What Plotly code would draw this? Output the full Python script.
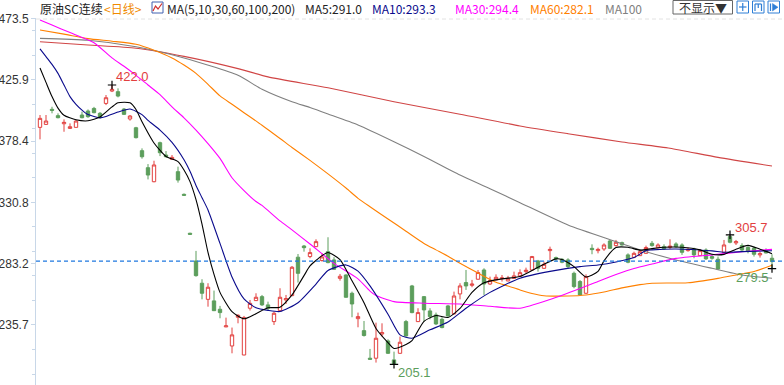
import plotly.graph_objects as go

# ---------------- data ----------------
opens = [389.1, 391.4, 403.1, 398.2, 391.9, 388.3, 389.1, 398.7, 401.8, 403.8,
         400.0, 407.7, 417.3, 416.8, 403.3, 395.6, 388.8, 371.0, 357.8, 346.9,
         377.2, 367.6, 364.3, 354.7, 337.1, 306.9, 285.4, 268.1, 255.6, 254.4,
         247.9, 234.2, 219.4, 241.7, 212.4, 248.7, 254.6, 257.7, 251.3, 238.3,
         246.8, 255.1, 258.5, 288.3, 297.0, 288.8, 296.5, 285.7, 292.6, 286.2,
         271.9, 274.5, 260.3, 240.6, 231.3, 209.9, 209.9, 228.7, 223.3, 208.6,
         213.7, 238.3, 266.0, 238.3, 257.7, 246.6, 243.5, 240.1, 250.5, 244.3,
         259.8, 268.6, 266.5, 271.2, 278.4, 267.5, 270.7, 271.7, 269.9, 271.9,
         273.8, 277.1, 278.4, 285.4, 279.7, 293.4, 288.0, 286.7, 286.2, 275.8,
         269.4, 260.3, 295.2, 293.4, 294.7, 300.9, 297.3, 299.6, 290.1, 288.2,
         289.5, 291.3, 299.1, 295.7, 296.5, 296.0, 298.6, 297.8, 293.4, 294.7,
         289.5, 293.9, 288.8, 286.7, 292.1, 304.3, 299.4, 297.3, 295.8, 295.2,
         290.1, 293.4, 287.5]
highs = [398.7, 398.7, 405.1, 400.0, 395.3, 392.2, 394.8, 401.3, 403.0, 405.0,
         401.0, 414.2, 422.0, 419.4, 404.1, 398.7, 389.5, 372.8, 360.6, 363.2,
         378.0, 370.7, 367.6, 358.6, 337.8, 307.3, 293.2, 271.2, 268.1, 262.4,
         250.5, 241.4, 233.7, 244.0, 242.7, 255.1, 260.3, 259.0, 253.8, 246.1,
         264.2, 259.0, 281.5, 290.8, 297.8, 295.2, 302.2, 291.4, 303.8, 288.3,
         275.3, 275.0, 261.6, 245.3, 238.8, 217.1, 237.5, 237.0, 224.6, 215.0,
         226.7, 239.6, 266.8, 248.7, 258.2, 248.7, 245.3, 241.7, 251.3, 261.6,
         268.1, 278.4, 270.7, 278.4, 279.7, 273.2, 275.0, 274.5, 273.8, 277.1,
         278.9, 280.2, 289.3, 286.2, 284.9, 296.5, 288.8, 287.5, 287.5, 277.1,
         270.6, 275.0, 298.3, 295.7, 299.1, 301.7, 301.7, 300.4, 291.3, 292.6,
         293.9, 297.3, 300.9, 299.1, 298.3, 302.2, 299.9, 299.1, 295.7, 295.7,
         294.7, 295.2, 290.6, 288.8, 301.7, 305.7, 301.7, 299.1, 297.3, 296.5,
         292.6, 295.2, 290.6]
lows = [379.8, 391.0, 400.0, 396.1, 385.7, 388.0, 389.1, 396.1, 396.5, 400.0,
        396.0, 406.4, 416.5, 412.4, 398.7, 394.3, 380.5, 364.8, 348.7, 346.5,
        366.8, 365.8, 364.0, 346.2, 335.8, 305.6, 273.2, 255.6, 249.9, 246.5,
        240.9, 234.0, 213.7, 237.0, 212.2, 246.9, 254.4, 250.5, 247.4, 235.7,
        246.5, 252.0, 258.0, 268.6, 292.6, 287.5, 296.2, 284.9, 283.6, 278.4,
        270.1, 257.0, 241.7, 233.9, 226.7, 208.9, 206.5, 226.7, 213.2, 205.1,
        213.5, 226.7, 244.8, 238.0, 238.3, 240.1, 235.7, 233.1, 242.2, 244.0,
        255.6, 262.9, 265.0, 271.0, 259.0, 266.8, 270.5, 269.4, 269.6, 271.5,
        273.2, 275.8, 278.0, 277.1, 279.2, 286.2, 284.9, 283.6, 279.2, 264.2,
        258.5, 260.0, 290.6, 291.3, 293.2, 294.7, 296.5, 297.3, 283.6, 287.5,
        289.3, 291.0, 296.5, 295.2, 293.9, 294.7, 295.7, 290.1, 292.6, 287.5,
        289.3, 286.2, 286.4, 278.4, 291.8, 299.1, 297.8, 293.2, 291.3, 288.8,
        288.0, 291.3, 279.5]
closes = [396.1, 394.0, 402.3, 396.6, 393.0, 389.6, 394.0, 396.6, 397.4, 400.5,
          396.9, 412.1, 418.6, 413.4, 399.2, 397.9, 381.1, 366.3, 352.1, 359.9,
          369.4, 366.3, 365.8, 348.2, 336.4, 306.1, 274.0, 260.3, 265.0, 246.8,
          245.3, 235.0, 228.0, 243.2, 241.4, 252.5, 257.2, 251.3, 248.7, 244.8,
          257.2, 256.2, 280.5, 275.8, 295.7, 291.9, 300.4, 288.5, 284.1, 278.9,
          273.5, 257.2, 252.0, 242.2, 227.5, 209.1, 225.4, 229.8, 213.7, 205.6,
          222.3, 227.2, 245.3, 245.3, 247.4, 242.2, 236.5, 233.7, 242.7, 258.2,
          266.0, 266.0, 267.5, 276.4, 267.5, 270.1, 272.7, 272.2, 271.9, 273.8,
          276.3, 278.2, 288.8, 279.7, 282.8, 294.4, 287.0, 284.4, 281.0, 265.5,
          259.0, 273.2, 294.2, 294.4, 297.8, 295.2, 299.9, 297.8, 284.4, 291.3,
          292.6, 295.8, 297.3, 297.8, 294.7, 296.8, 296.5, 292.1, 294.4, 290.1,
          293.4, 287.0, 287.5, 279.2, 297.8, 299.9, 300.4, 293.9, 293.2, 290.6,
          291.1, 291.6, 284.9]
candle_idx = list(range(len(opens)))

# moving averages, read at sample candles
ma5_i = [0, 1, 2, 3, 4, 6, 8, 10, 12, 13, 15, 16, 17, 19, 21, 23, 24, 25, 26, 27,
         28, 29, 30, 32, 34, 36, 38, 40, 42, 44, 45, 47, 48, 50, 52, 54, 56, 58, 59,
         61, 62, 64, 66, 68, 70, 72, 74, 77, 80, 83, 86, 87, 89, 91, 93, 94, 96, 98,
         100, 102, 104, 107, 110, 112, 114, 116, 118, 120, 122]
ma5_v = [435.2, 424.0, 413.0, 404.0, 398.5, 395.0, 394.2, 397.2, 405.0, 408.2,
         408.2, 403.0, 393.5, 377.0, 366.5, 362.5, 356.0, 347.0, 333.0, 314.0,
         292.0, 275.0, 261.0, 246.0, 240.5, 244.5, 249.0, 249.5, 259.0, 274.0,
         281.5, 289.5, 292.0, 286.5, 270.0, 253.0, 233.0, 222.0, 217.5, 220.5,
         223.5, 238.5, 243.0, 241.5, 248.5, 261.0, 268.5, 271.5, 273.3, 280.5,
         287.0, 286.5, 281.0, 273.0, 277.3, 285.5, 295.8, 296.0, 293.8, 295.0,
         296.0, 296.0, 294.0, 290.6, 290.5, 294.5, 297.5, 294.5, 291.0]

ma10_i = [0, 1, 2, 3, 4, 5, 6, 7, 8, 10, 11, 13, 15, 17, 18, 20, 22, 24, 25, 26,
          27, 28, 30, 32, 34, 36, 38, 40, 43, 46, 48, 51, 53, 55, 58, 60, 62, 65,
          68, 71, 75, 80, 85, 90, 93, 96, 99, 101, 102, 106, 112, 114, 117, 122]
ma10_v = [450.0, 444.0, 438.0, 431.0, 422.0, 413.0, 407.0, 402.5, 399.0, 396.5,
          397.5, 401.0, 403.3, 399.0, 394.5, 387.0, 377.5, 364.0, 355.0, 344.0,
          334.5, 325.0, 299.0, 273.0, 256.0, 249.0, 247.0, 246.1, 253.0, 267.5,
          278.0, 282.3, 277.5, 266.0, 244.0, 228.0, 225.4, 231.9, 238.0, 248.7,
          261.0, 272.0, 277.3, 281.0, 282.3, 284.6, 288.0, 293.5, 294.0, 294.7,
          293.2, 292.2, 292.6, 293.3]

ma30_i = [0, 2, 5, 9, 12, 14, 16, 18, 20, 22, 24, 26, 28, 30, 32, 34, 36, 37, 40,
          42, 45, 49, 53, 55, 56, 59, 64, 70, 75, 80, 85, 90, 93, 96, 99, 102, 106,
          112, 117, 122]
ma30_v = [472.4, 468.5, 462.7, 454.8, 443.0, 436.5, 429.5, 422.0, 414.5, 405.0,
          396.5, 387.0, 376.5, 365.0, 350.0, 340.0, 331.5, 328.5, 316.5, 309.5,
          298.6, 283.5, 271.5, 262.0, 258.5, 253.8, 252.6, 252.0, 250.2, 248.7,
          255.5, 264.0, 269.5, 274.8, 279.5, 283.0, 287.4, 290.1, 292.5, 294.4]

ma60_i = [0, 4, 8, 12, 16, 19, 22, 24, 26, 28, 30, 32, 34, 37, 40, 42, 45, 48, 51,
          53, 55, 58, 61, 64, 66, 68, 70, 73, 76, 78, 80, 82, 84, 88, 91, 94, 97,
          100, 102, 108, 113, 116, 119, 122]
ma60_v = [464.7, 461.5, 458.0, 456.0, 453.6, 449.0, 443.0, 437.5, 431.0, 422.5,
          413.5, 407.0, 400.5, 390.8, 380.5, 373.5, 363.5, 353.0, 342.0, 334.0,
          327.5, 318.0, 308.5, 299.0, 294.0, 289.0, 283.6, 276.0, 268.8, 266.0,
          262.9, 260.2, 258.4, 258.2, 259.0, 261.3, 264.5, 267.0, 268.1, 268.5,
          271.9, 274.5, 277.2, 282.1]

ma100_i = [0, 8, 16, 24, 33, 37, 42, 45, 48, 53, 59, 64, 70, 75, 80, 88, 96, 101,
           106, 112, 117, 122]
ma100_v = [458.2, 456.7, 451.7, 443.0, 429.5, 418.7, 409.0, 404.5, 399.5, 391.0,
           378.0, 366.5, 352.1, 341.5, 330.6, 313.3, 300.4, 292.6, 286.2, 279.7,
           274.5, 272.0]

ma200_i = [0, 8, 16, 24, 33, 38, 48, 59, 70, 80, 88, 97, 105, 113, 122]
ma200_v = [455.6, 453.0, 450.5, 444.2, 434.7, 428.3, 419.8, 409.0, 399.3, 390.2,
           384.2, 377.8, 372.9, 365.8, 359.1]

ytick_vals = [473.5, 425.9, 378.4, 330.8, 283.2, 235.7]
ytick_text = ["473.5", "425.9", "378.4", "330.8", "283.2", "235.7"]
ref_price = 285.3

hi_i, hi_v = 12, 422.0
lo_i, lo_v = 59, 205.1
hi2_i, hi2_v = 115, 305.7
lo2_i, lo2_v = 122, 279.5

title_name = "原油SC连续"
title_period = "<日线>"
ma_label = "MA(5,10,30,60,100,200)"
ma_last = {"MA5": 291.0, "MA10": 293.3, "MA30": 294.4, "MA60": 282.1}

# ---------------- styling ----------------
RED = "#e2403f"
GREEN = "#5c9e5c"
C_MA5 = "#000000"
C_MA10 = "#0a0a8c"
C_MA30 = "#ff00ff"
C_MA60 = "#ff8000"
C_MA100 = "#808080"
C_MA200 = "#d04545"
AXIS_C = "#c8d7e8"

W, H = 784, 385
ML, MT = 36, 18


def px(x):
    return (x - ML) / (W - ML)


def py(y):
    return (H - y) / (H - MT)


fig = go.Figure()
fig.add_trace(go.Candlestick(
    x=candle_idx, open=opens, high=highs, low=lows, close=closes,
    increasing=dict(line=dict(color=RED, width=1), fillcolor="#ffffff"),
    decreasing=dict(line=dict(color=GREEN, width=1), fillcolor=GREEN),
    whiskerwidth=0, showlegend=False, hoverinfo="skip"))

for xs, ys, col in [(ma200_i, ma200_v, C_MA200), (ma100_i, ma100_v, C_MA100),
                    (ma60_i, ma60_v, C_MA60), (ma30_i, ma30_v, C_MA30),
                    (ma10_i, ma10_v, C_MA10), (ma5_i, ma5_v, C_MA5)]:
    fig.add_trace(go.Scatter(x=xs, y=ys, mode="lines",
                             line=dict(color=col, width=1.1, shape="spline", smoothing=0.6),
                             showlegend=False, hoverinfo="skip"))

fig.add_trace(go.Scatter(x=[hi_i, lo_i, hi2_i, lo2_i], y=[hi_v, lo_v, hi2_v, lo2_v],
                         mode="markers",
                         marker=dict(symbol="cross-thin", size=6,
                                     line=dict(color="#000000", width=1.2)),
                         showlegend=False, hoverinfo="skip"))

ext_font = dict(family="Liberation Sans, Arial, sans-serif", size=13)
annots = [
    dict(x=hi_i, y=hi_v, text=f"{hi_v:.1f}", xshift=20, yshift=8, font=dict(color=RED, **ext_font)),
    dict(x=lo_i, y=lo_v, text=f"{lo_v:.1f}", xshift=20, yshift=-8, font=dict(color=GREEN, **ext_font)),
    dict(x=hi2_i, y=hi2_v, text=f"{hi2_v:.1f}", xshift=21, yshift=7, font=dict(color=RED, **ext_font)),
    dict(x=lo2_i, y=lo2_v, text=f"{lo2_v:.1f}", xshift=-20, yshift=-9, font=dict(color=GREEN, **ext_font)),
]
for a in annots:
    a.update(xref="x", yref="y", showarrow=False, xanchor="center", yanchor="middle")

hfont = "Noto Sans CJK SC, sans-serif"
header = [
    (38, title_name, "#222222"),
    (101.5, title_period, "#f08a00"),
    (165, ma_label, "#222222"),
    (303, f"MA5:{ma_last['MA5']:.1f}", "#222222"),
    (370, f"MA10:{ma_last['MA10']:.1f}", C_MA10),
    (453, f"MA30:{ma_last['MA30']:.1f}", C_MA30),
    (528, f"MA60:{ma_last['MA60']:.1f}", C_MA60),
    (603, "MA100", C_MA100),
]
for x0, txt, col in header:
    annots.append(dict(x=px(x0), y=py(8.5), xref="paper", yref="paper", text=txt,
                       showarrow=False, xanchor="left", yanchor="middle",
                       font=dict(family=hfont, size=12, color=col)))
annots.append(dict(x=px(702.5), y=py(7.5), xref="paper", yref="paper", text="不显示▼",
                   showarrow=False, xanchor="center", yanchor="middle",
                   font=dict(family=hfont, size=12, color="#333333")))

shapes = [
    # last-price dashed line
    dict(type="line", xref="paper", yref="y", x0=0, x1=1, y0=ref_price, y1=ref_price,
         line=dict(color="#1f78e0", width=1.2, dash="4px,3px")),
    # top dashed border
    dict(type="line", xref="paper", yref="paper", x0=0, x1=1, y0=py(19), y1=py(19),
         line=dict(color="#e2e2e2", width=1, dash="4px,3px")),
    # "不显示" box
    dict(type="rect", xref="paper", yref="paper", x0=px(673), x1=px(732.5), y0=py(14), y1=py(0.5),
         line=dict(color="#666666", width=1)),
    # chart icon
    dict(type="rect", xref="paper", yref="paper", x0=px(152), x1=px(163), y0=py(13), y1=py(2),
         line=dict(color="#4060b0", width=1)),
    dict(type="path", xref="paper", yref="paper",
         path=f"M {px(153)},{py(11)} L {px(155.5)},{py(6)} L {px(158)},{py(9)} L {px(162)},{py(3.5)}",
         line=dict(color="#d03030", width=1.2)),
]
# right tool icons
for x0 in [737, 752.5, 768]:
    shapes.append(dict(type="rect", xref="paper", yref="paper", x0=px(x0), x1=px(x0 + 11.5),
                       y0=py(13), y1=py(1), line=dict(color="#2f7fd6", width=1)))
blue = "#2f7fd6"
icon_lines = [
    (739, 7, 746.5, 7), (742.75, 3, 742.75, 11),
    (755, 4, 755, 11), (761.5, 4, 761.5, 11), (755, 4, 761.5, 4), (758.25, 4, 758.25, 8),
    (770.5, 3.5, 770.5, 11),
]
for x0, y0, x1, y1 in icon_lines:
    shapes.append(dict(type="line", xref="paper", yref="paper", x0=px(x0), x1=px(x1),
                       y0=py(y0), y1=py(y1), line=dict(color=blue, width=1.2)))
shapes.append(dict(type="path", xref="paper", yref="paper",
                   path=f"M {px(772.5)},{py(3.5)} L {px(778)},{py(7.2)} L {px(772.5)},{py(11)} Z",
                   fillcolor=blue, line=dict(color=blue, width=0.5)))

fig.update_layout(
    width=W, height=H,
    margin=dict(l=ML, r=0, t=MT, b=0, autoexpand=False),
    paper_bgcolor="#ffffff", plot_bgcolor="#ffffff",
    boxgap=0.2,
    annotations=annots, shapes=shapes,
    xaxis=dict(range=[-0.667, 124.0], visible=False, rangeslider=dict(visible=False),
               showgrid=False, zeroline=False),
    yaxis=dict(range=[189.1, 474.0], showgrid=False, zeroline=False, automargin=False,
               tickmode="array", tickvals=ytick_vals, ticktext=ytick_text,
               showline=True, linecolor=AXIS_C, linewidth=1,
               ticks="outside", ticklen=4, tickcolor=AXIS_C,
               tickfont=dict(family="Liberation Sans, Arial, sans-serif", size=12, color="#333333"),
               minor=dict(ticks="outside", ticklen=3, tickcolor=AXIS_C, tick0=235.7, dtick=19.03,
                          showgrid=False)),
    showlegend=False,
    hovermode=False,
)

fig.write_html("out.html", config={"displayModeBar": False},
               post_script="document.body.style.margin='0';document.body.style.padding='0';")
